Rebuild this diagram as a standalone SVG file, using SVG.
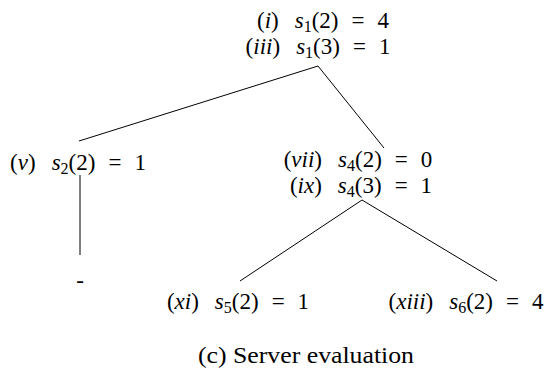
<svg xmlns="http://www.w3.org/2000/svg" width="550" height="376" viewBox="0 0 550 376">
<style>
text{font-family:'Liberation Serif','DejaVu Serif',serif;font-size:23px;fill:#000;text-anchor:middle}
.i{font-style:italic}
.s{font-size:16px}
line{stroke:#000;stroke-width:1}
</style>
<rect width="550" height="376" fill="#fff"/>
<g id="connectors">
<line x1="318" y1="66" x2="79" y2="141"/>
<line x1="318" y1="66" x2="384" y2="148"/>
<line x1="80" y1="175" x2="80" y2="255"/>
<line x1="362" y1="200" x2="240" y2="281"/>
<line x1="362" y1="200" x2="497" y2="281"/>
</g>
<g id="n1">
<text x="323" y="28">(<tspan class="i">i</tspan>)<tspan class="i" dx="16">s</tspan><tspan class="s" dy="4">1</tspan><tspan dy="-4">(2)</tspan><tspan dx="13">=</tspan><tspan dx="13">4</tspan></text>
<text x="318" y="54">(<tspan class="i">iii</tspan>)<tspan class="i" dx="16">s</tspan><tspan class="s" dy="4">1</tspan><tspan dy="-4">(3)</tspan><tspan dx="13">=</tspan><tspan dx="13">1</tspan></text>
</g>
<g id="n2">
<text x="78" y="170">(<tspan class="i">v</tspan>)<tspan class="i" dx="16">s</tspan><tspan class="s" dy="4">2</tspan><tspan dy="-4">(2)</tspan><tspan dx="13">=</tspan><tspan dx="13">1</tspan></text>
</g>
<g id="n3">
<text x="80" y="288">-</text>
</g>
<g id="n4">
<text x="358" y="167">(<tspan class="i">vii</tspan>)<tspan class="i" dx="16">s</tspan><tspan class="s" dy="4">4</tspan><tspan dy="-4">(2)</tspan><tspan dx="13">=</tspan><tspan dx="13">0</tspan></text>
<text x="361" y="193">(<tspan class="i">ix</tspan>)<tspan class="i" dx="16">s</tspan><tspan class="s" dy="4">4</tspan><tspan dy="-4">(3)</tspan><tspan dx="13">=</tspan><tspan dx="13">1</tspan></text>
</g>
<g id="n5">
<text x="238" y="309">(<tspan class="i">xi</tspan>)<tspan class="i" dx="16">s</tspan><tspan class="s" dy="4">5</tspan><tspan dy="-4">(2)</tspan><tspan dx="13">=</tspan><tspan dx="13">1</tspan></text>
</g>
<g id="n6">
<text x="466" y="309">(<tspan class="i">xiii</tspan>)<tspan class="i" dx="16">s</tspan><tspan class="s" dy="4">6</tspan><tspan dy="-4">(2)</tspan><tspan dx="13">=</tspan><tspan dx="13">4</tspan></text>
</g>
<g id="caption">
<text x="306" y="363" font-size="24" textLength="216" lengthAdjust="spacingAndGlyphs">(c) Server evaluation</text>
</g>
</svg>
